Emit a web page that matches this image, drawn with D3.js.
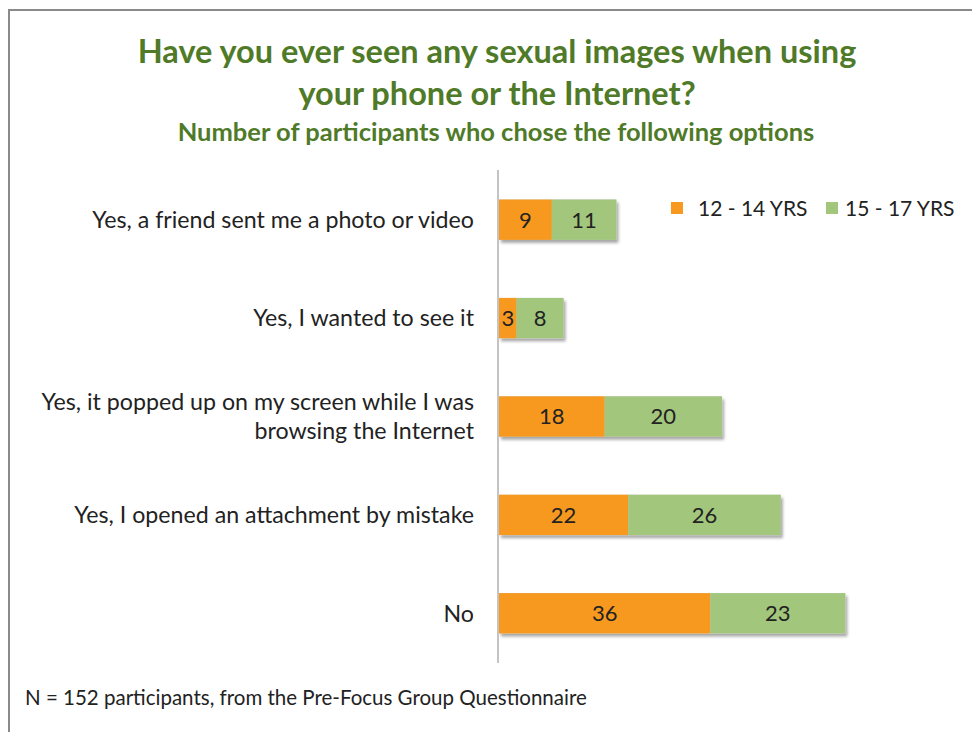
<!DOCTYPE html>
<html>
<head>
<meta charset="utf-8">
<script src="https://cdn.jsdelivr.net/npm/d3@7"></script>
<style>
  html, body { margin: 0; padding: 0; background: #fff; }
  svg { display: block; font-family: Lato, "Open Sans", sans-serif; }
</style>
</head>
<body>
<svg id="chart" width="972" height="732"></svg>
<script>
// Survey answers, top to bottom
const categories = [
  ["Yes, a friend sent me a photo or video"],
  ["Yes, I wanted to see it"],
  ["Yes, it popped up on my screen while I was", "browsing the Internet"],
  ["Yes, I opened an attachment by mistake"],
  ["No"]
];
const seriesNames = ["12 - 14 YRS", "15 - 17 YRS"];
const ages12to14 = [9, 3, 18, 22, 36];
const ages15to17 = [11, 8, 20, 26, 23];
const seriesColors = ["#F7991F", "#A2C77C"];

const titleLines = ["Have you ever seen any sexual images when using", "your phone or the Internet?"];
const subtitle = "Number of participants who chose the following options";
const footnote = "N = 152 participants, from the Pre-Focus Group Questionnaire";

const svg = d3.select("#chart");

// drop shadow used under the bars
const defs = svg.append("defs");
const f = defs.append("filter").attr("id", "barShadow")
  .attr("x", "-5%").attr("y", "-20%").attr("width", "115%").attr("height", "160%");
f.append("feDropShadow").attr("dx", 2).attr("dy", 3).attr("stdDeviation", 1.8)
  .attr("flood-color", "#000").attr("flood-opacity", 0.35);

// outer frame
svg.append("rect").attr("x", 9).attr("y", 10).attr("width", 980).attr("height", 740)
  .attr("fill", "none").attr("stroke", "#8a8a8a").attr("stroke-width", 2);

// titles
const green = "#4F7A28";
svg.append("g").selectAll("text").data(titleLines).join("text")
  .attr("x", 497).attr("y", (d, i) => 63 + i * 42)
  .attr("text-anchor", "middle").attr("font-size", 32.5).attr("font-weight", 700)
  .attr("fill", green).text(d => d);
svg.append("text").attr("x", 496).attr("y", 141).attr("text-anchor", "middle")
  .attr("font-size", 25.5).attr("font-weight", 700).attr("fill", green).text(subtitle);

// scales
const rows = categories.map((c, i) => ({ label: c, a: ages12to14[i], b: ages15to17[i], i }));
const y = d3.scaleBand().domain(d3.range(categories.length)).range([170, 663]).paddingInner(0.59).paddingOuter(0.3);
const x = d3.scaleLinear().domain([0, 80]).range([499, 968.6]);

// bars
const stack = d3.stack().keys(["a", "b"])(rows);
const barG = svg.append("g");
rows.forEach((r, i) => {
  barG.append("rect").attr("x", x(0)).attr("y", y(i))
    .attr("width", x(r.a + r.b) - x(0)).attr("height", y.bandwidth())
    .attr("fill", "#ccc").attr("filter", "url(#barShadow)");
});
stack.forEach((layer, k) => {
  barG.append("g").selectAll("rect").data(layer).join("rect")
    .attr("x", d => x(d[0])).attr("y", (d, i) => y(i))
    .attr("width", d => x(d[1]) - x(d[0])).attr("height", y.bandwidth())
    .attr("fill", seriesColors[k]);
  barG.append("g").selectAll("text").data(layer).join("text")
    .attr("x", d => (x(d[0]) + x(d[1])) / 2).attr("y", (d, i) => y(i) + y.bandwidth() / 2)
    .attr("dy", "0.36em").attr("text-anchor", "middle")
    .attr("font-size", 22).attr("fill", "#222").text(d => d[1] - d[0]);
});

// category axis
svg.append("line").attr("x1", x(0) - 1).attr("x2", x(0) - 1).attr("y1", 170).attr("y2", 663)
  .attr("stroke", "#888").attr("stroke-width", 1);
const labG = svg.append("g");
rows.forEach((r, i) => {
  const n = r.label.length;
  const cy = y(i) + y.bandwidth() / 2;
  r.label.forEach((line, j) => {
    labG.append("text").attr("x", 474).attr("y", cy + (j - (n - 1) / 2) * 29)
      .attr("dy", "0.36em").attr("text-anchor", "end").attr("font-size", 23.2)
      .attr("fill", "#222").text(line);
  });
});

// legend
const legX = [671, 826];
const lg = svg.append("g");
seriesNames.forEach((s, k) => {
  lg.append("rect").attr("x", legX[k]).attr("y", 202).attr("width", 12).attr("height", 12)
    .attr("fill", seriesColors[k]);
  lg.append("text").attr("x", legX[k] + (k === 0 ? 27 : 19)).attr("y", 208).attr("dy", "0.36em")
    .attr("font-size", 21).attr("fill", "#222").text(s);
});

// footnote
svg.append("text").attr("x", 25).attr("y", 698).attr("dy", "0.36em")
  .attr("font-size", 20.5).attr("fill", "#222").text(footnote);
</script>
</body>
</html>
